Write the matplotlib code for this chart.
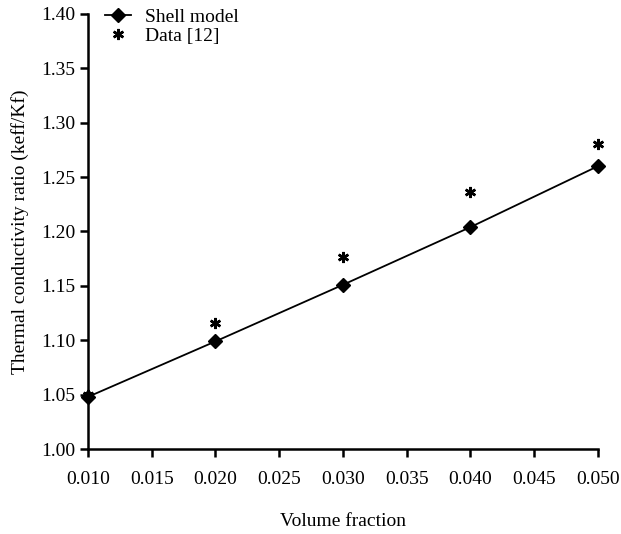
import matplotlib.pyplot as plt

volume_fraction = [0.010, 0.020, 0.030, 0.040, 0.050]
shell_model = [1.048, 1.099, 1.151, 1.204, 1.260]
data_12 = [1.050, 1.116, 1.177, 1.236, 1.280]

plt.rcParams['font.family'] = ['Liberation Serif', 'DejaVu Serif']

fig = plt.figure(figsize=(6.21, 5.34), dpi=100)
ax = fig.add_axes([0.1417, 0.159, 0.821, 0.815])

ax.plot(volume_fraction, shell_model, color='black', lw=1.3, marker='D',
        markersize=7, label='Shell model', clip_on=False, zorder=3)
ax.plot(volume_fraction, data_12, ls='none', color='black', marker=(6, 2, 0),
        markersize=8, markeredgewidth=1.8, label='Data [12]', clip_on=False, zorder=4)

ax.set_xlim(0.010, 0.050)
ax.set_ylim(1.00, 1.40)
ax.set_xticks([0.010, 0.015, 0.020, 0.025, 0.030, 0.035, 0.040, 0.045, 0.050])
ax.set_yticks([1.00, 1.05, 1.10, 1.15, 1.20, 1.25, 1.30, 1.35, 1.40])
ax.xaxis.set_major_formatter(plt.FormatStrFormatter('%.3f'))
ax.yaxis.set_major_formatter(plt.FormatStrFormatter('%.2f'))

for side in ('top', 'right'):
    ax.spines[side].set_visible(False)
for side in ('left', 'bottom'):
    ax.spines[side].set_linewidth(1.8)
ax.tick_params(direction='out', length=6, width=1.8, labelsize=14, pad=3)
ax.tick_params(axis='x', pad=10)

ax.set_xlabel('Volume fraction', fontsize=14, labelpad=18)
ax.set_ylabel('Thermal conductivity ratio (keff/Kf)', fontsize=14, labelpad=9)

ax.legend(loc='upper left', frameon=False, fontsize=14, bbox_to_anchor=(0.007, 1.045),
          handlelength=1.35, borderaxespad=0.3, labelspacing=0.1, handletextpad=0.7)

fig.savefig('out.png', dpi=100)
